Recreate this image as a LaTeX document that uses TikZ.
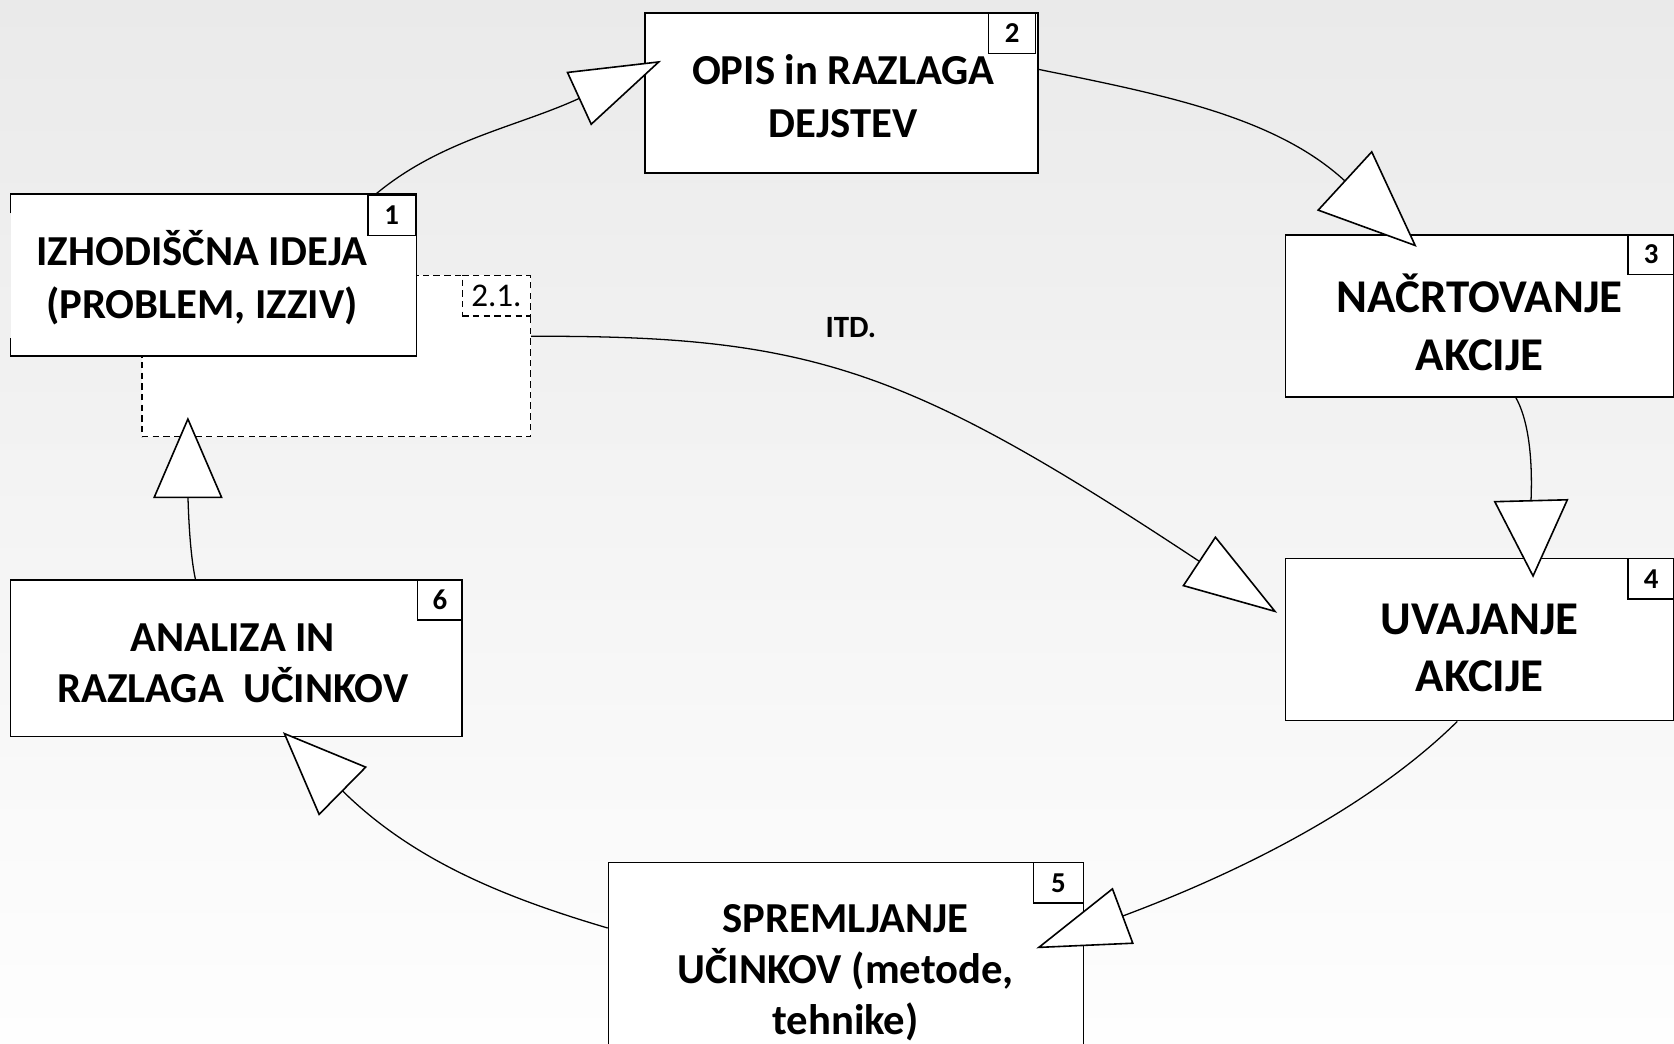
\documentclass[tikz,border=0pt]{standalone}
\usepackage{fontspec}
\setmainfont{Carlito}
\usetikzlibrary{arrows.meta,calc}
\definecolor{bgtop}{HTML}{EAEAEA}
\definecolor{bgbot}{HTML}{FEFEFE}
\tikzset{
  boxline/.style={draw=black, line width=1.5bp},
  boxsty/.style={boxline, fill=white, inner sep=0pt},
  dashsty/.style={draw=black, fill=white, line width=1.2bp, dash pattern=on 6bp off 4bp, inner sep=0pt},
  badge/.style={boxsty, anchor=north east, font=\fontsize{27bp}{30bp}\selectfont\bfseries},
  mtext/.style={align=center, font=\fontsize{40bp}{49bp}\selectfont\bfseries, inner sep=0pt},
  btext/.style={align=center, font=\fontsize{44bp}{54bp}\selectfont\bfseries, inner sep=0pt},
  conn/.style={draw=black, line width=1.2bp},
  tri/.style 2 args={-{Triangle[length=#1, width=#2, fill=white, line width=1.5bp, line join=miter]}}
}
\begin{document}
\begin{tikzpicture}[x=1bp,y=-1bp]
\useasboundingbox (0,0) rectangle (1568,977);
\shade[top color=bgtop, bottom color=bgbot] (0,0) rectangle (1568,977);

% dashed box 2.1
\node[dashsty, minimum width=364bp, minimum height=151bp] (d21) at (315,333.5) {};
\node[dashsty, anchor=north east, minimum width=64bp, minimum height=38bp,
      font=\fontsize{31bp}{32bp}\selectfont] (n21) at (d21.north east) {2.1.};

% box 1 (left edge partly missing)
\node[fill=white, draw=none, inner sep=0pt, minimum width=380bp, minimum height=151bp] (b1) at (200,257.5) {};
\draw[boxline] ([yshift=-18bp]b1.north west) -- (b1.north west) -- (b1.north east)
  -- (b1.south east) -- (b1.south west) -- ([yshift=17bp]b1.south west);
\node[badge, minimum width=45bp, minimum height=38bp] (n1) at (b1.north east) {1};
\node[mtext] (t1) at (189,260) {IZHODIŠČNA IDEJA\\(PROBLEM, IZZIV)};

% box 2
\node[boxsty, minimum width=368bp, minimum height=150bp] (b2) at (788,87) {};
\node[badge, minimum width=44bp, minimum height=38bp] (n2) at ([xshift=-2bp]b2.north east) {2};
\node[mtext] (t2) at (790,90) {OPIS in RAZLAGA\\DEJSTEV};

% box 3
\node[boxsty, minimum width=364bp, minimum height=152bp] (b3) at (1386,296) {};
\node[badge, minimum width=43bp, minimum height=37bp] (n3) at (b3.north east) {3};
\node[btext] (t3) at (1386,302) {NAČRTOVANJE\\AKCIJE};

% box 4
\node[boxsty, minimum width=364bp, minimum height=152bp] (b4) at (1386,599) {};
\node[badge, minimum width=43bp, minimum height=38bp] (n4) at (b4.north east) {4};
\node[btext] (t4) at (1386,607) {UVAJANJE\\AKCIJE};

% box 5
\node[boxsty, minimum width=445bp, minimum height=252bp] (b5) at (792.5,934) {};
\node[badge, minimum width=47bp, minimum height=38bp] (n5) at (b5.north east) {5};
\node[mtext, font=\fontsize{40bp}{48bp}\selectfont\bfseries] (t5) at (792,911) {SPREMLJANJE\\UČINKOV (metode,\\tehnike)};

% box 6
\node[boxsty, minimum width=423bp, minimum height=147bp] (b6) at (221.5,616.5) {};
\node[badge, minimum width=42bp, minimum height=38bp] (n6) at (b6.north east) {6};
\node[mtext, font=\fontsize{40bp}{48bp}\selectfont\bfseries] (t6) at (218,621) {ANALIZA IN\\RAZLAGA\ \ UČINKOV};

% label
\node[font=\fontsize{29bp}{30bp}\selectfont\bfseries, inner sep=0pt] (itd) at (797,307) {ITD.};

% connectors
\draw[conn, tri={85bp}{55bp}] ([xshift=152bp]b1.north) .. controls (413,131) and (484,119) .. ([xshift=16bp,yshift=30bp]b2.west);
\draw[conn, tri={92bp}{76bp}] ([yshift=22bp]b2.east) .. controls (1092,89) and (1195,110) .. ([xshift=-59bp,yshift=-12bp]b3.north);
\draw[conn, tri={73bp}{70bp}] ([xshift=34bp]b3.south) .. controls (1438,405) and (1434,465) .. ([xshift=50bp,yshift=-19bp]b4.north);
\draw[conn, tri={88bp}{56bp}] ([yshift=18.5bp]d21.east) .. controls (760,314) and (850,345) .. ([xshift=-7bp,yshift=25bp]b4.west);
\draw[conn, tri={87bp}{56bp}] ([xshift=-21bp]b4.south) .. controls (1305,735) and (1204,801) .. ([xshift=-45bp,yshift=-81bp]b5.north east);
\draw[conn, tri={79bp}{64bp}] ([yshift=-62bp]b5.north west) .. controls (470,840) and (386,805) .. ([xshift=43.5bp,yshift=5bp]b6.south);
\draw[conn, tri={76bp}{65bp}] ([xshift=-38.5bp]b6.north) .. controls (176,510) and (176,450) .. ([xshift=-139bp,yshift=19bp]d21.south);
\end{tikzpicture}
\end{document}
